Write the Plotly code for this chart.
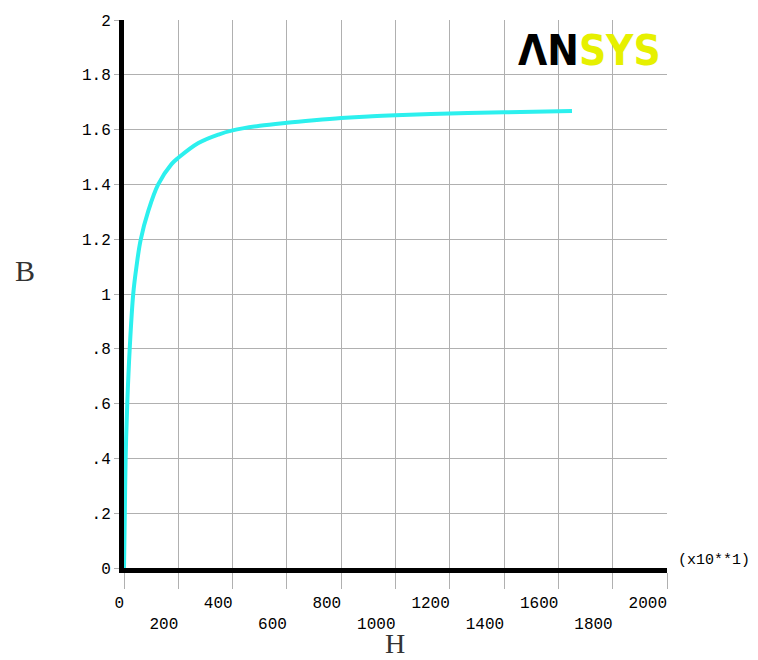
import plotly.graph_objects as go

# B-H curve data (H in units of x10**1)
H_vals = [0, 3, 6, 12, 21, 34, 46, 61, 90, 126, 175, 200, 274, 348, 400, 500, 600, 700, 800, 900, 1000, 1200, 1400, 1650]
B_vals = [0, 0.2, 0.4, 0.6, 0.8, 1.0, 1.1, 1.196, 1.305, 1.4, 1.474, 1.497, 1.551, 1.582, 1.597, 1.614, 1.625, 1.634, 1.642, 1.648, 1.652, 1.659, 1.663, 1.668]

x_ticks = [0, 200, 400, 600, 800, 1000, 1200, 1400, 1600, 1800, 2000]
y_ticks = [0, 0.2, 0.4, 0.6, 0.8, 1.0, 1.2, 1.4, 1.6, 1.8, 2.0]
y_labels = ["0", ".2", ".4", ".6", ".8", "1", "1.2", "1.4", "1.6", "1.8", "2"]

NB = "\u00a0"
x_labels = []
for i, v in enumerate(x_ticks):
    s = str(v)
    s = s + NB * len(s)  # left-align on the tick in monospace
    if i % 2 == 1:
        s = "<br>" + s
    x_labels.append(s)

GRID = "#b0b0b0"
MONO = "Liberation Mono, Courier New, monospace"

fig = go.Figure()
fig.add_trace(go.Scatter(
    x=H_vals, y=B_vals, mode="lines",
    line=dict(color="#2cf0ee", width=4, shape="spline", smoothing=1.0),
    hoverinfo="skip", showlegend=False,
))

fig.update_layout(
    width=758, height=660,
    margin=dict(l=124, r=91, t=20, b=92),
    paper_bgcolor="white", plot_bgcolor="white",
    xaxis=dict(
        range=[0, 2000], tickmode="array", tickvals=x_ticks, ticktext=x_labels,
        tickangle=0, automargin=False,
        showgrid=True, gridcolor=GRID, gridwidth=1,
        showline=True, linecolor="black", linewidth=5,
        ticks="outside", ticklen=16, tickcolor=GRID, tickwidth=1,
        zeroline=False, tickfont=dict(family=MONO, size=16, color="black"),
    ),
    yaxis=dict(
        range=[0, 2], tickmode="array", tickvals=y_ticks, ticktext=y_labels,
        automargin=False,
        showgrid=True, gridcolor=GRID, gridwidth=1,
        showline=True, linecolor="black", linewidth=5,
        ticks="outside", ticklen=5, tickcolor=GRID, tickwidth=1,
        zeroline=False, tickfont=dict(family=MONO, size=16, color="black"),
    ),
    annotations=[
        dict(text="(x10**1)", xref="paper", yref="paper", x=1, y=0,
             xanchor="left", yanchor="middle", xshift=9, yshift=8, showarrow=False,
             font=dict(family=MONO, size=15, color="black")),
        dict(text="B", xref="paper", yref="paper", x=-0.182, y=0.542,
             xanchor="center", yanchor="middle", showarrow=False,
             font=dict(family="Liberation Serif, serif", size=30, color="#333333")),
        dict(text="H", xref="paper", yref="paper", x=0.499, y=-0.1679,
             xanchor="center", yanchor="bottom", showarrow=False, borderpad=0,
             font=dict(family="Liberation Serif, serif", size=28, color="#333333")),
        dict(text="<b>ΛN</b><b><span style='color:#e6f000'>SYS</span></b>",
             xref="paper", yref="paper", x=0.858, y=0.945,
             xanchor="center", yanchor="middle", showarrow=False,
             font=dict(family="Liberation Sans Narrow, DejaVu Sans Condensed, Arial Narrow, sans-serif",
                       size=42, color="black")),
    ],
)

fig.write_html("out.html")
